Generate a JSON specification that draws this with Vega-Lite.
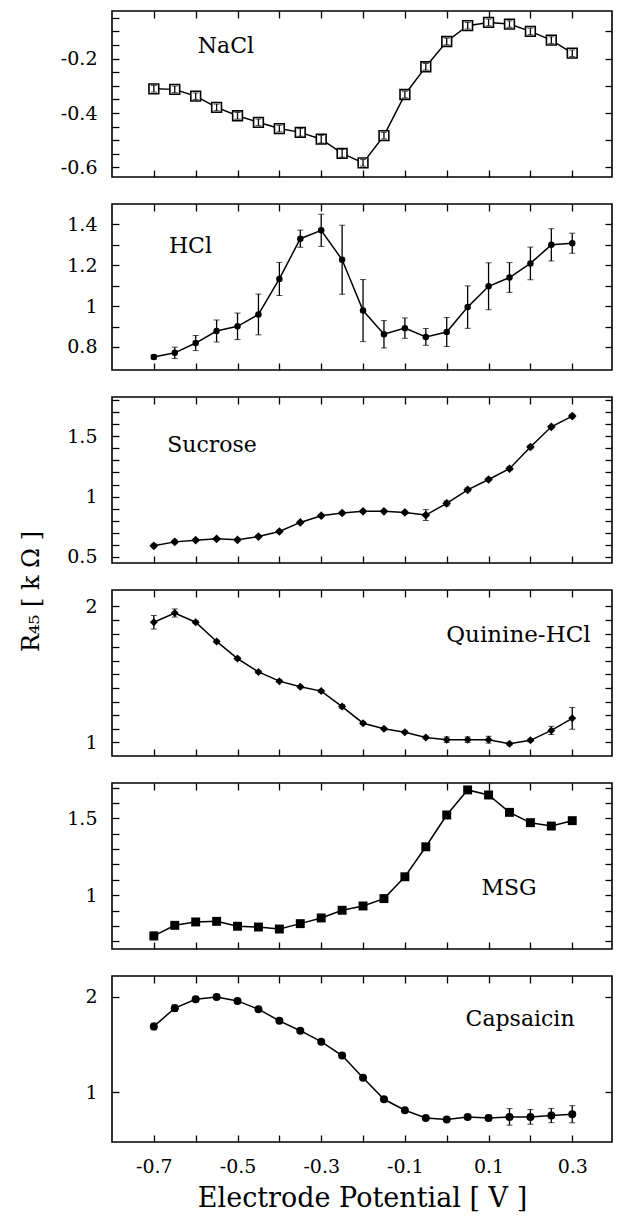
{
  "$schema": "https://vega.github.io/schema/vega-lite/v6.json",
  "background": "white",
  "padding": {"left": 18, "top": 9, "right": 5, "bottom": 5},
  "spacing": 27,
  "bounds": "flush",
  "config": {
    "view": {"stroke": "black", "strokeWidth": 1.6},
    "axis": {"domain": false, "grid": false, "tickColor": "black", "tickWidth": 1.3, "tickSize": 7, "offset": -7,
      "labelFont": "DejaVu Serif", "labelFontSize": 19, "labelColor": "black", "labelPadding": 15,
      "titleFont": "DejaVu Serif", "titleColor": "black", "titleFontWeight": "normal"},
    "text": {"font": "DejaVu Serif", "fontSize": 22, "color": "black"}
  },
  "vconcat": [
    {
      "width": 500, "height": 166,
      "data": {"values": [
        {"v": -0.7, "r": -0.311, "e": 0.012}, {"v": -0.65, "r": -0.313, "e": 0.012}, {"v": -0.6, "r": -0.338, "e": 0.012},
        {"v": -0.55, "r": -0.379, "e": 0.012}, {"v": -0.5, "r": -0.41, "e": 0.012}, {"v": -0.45, "r": -0.434, "e": 0.012},
        {"v": -0.4, "r": -0.457, "e": 0.012}, {"v": -0.35, "r": -0.471, "e": 0.014}, {"v": -0.3, "r": -0.496, "e": 0.014},
        {"v": -0.25, "r": -0.548, "e": 0.014}, {"v": -0.2, "r": -0.583, "e": 0.012}, {"v": -0.15, "r": -0.483, "e": 0.012},
        {"v": -0.1, "r": -0.332, "e": 0.012}, {"v": -0.05, "r": -0.23, "e": 0.012}, {"v": 0, "r": -0.137, "e": 0.012},
        {"v": 0.05, "r": -0.079, "e": 0.012}, {"v": 0.1, "r": -0.067, "e": 0.012}, {"v": 0.15, "r": -0.073, "e": 0.012},
        {"v": 0.2, "r": -0.1, "e": 0.012}, {"v": 0.25, "r": -0.132, "e": 0.012}, {"v": 0.3, "r": -0.18, "e": 0.012}
      ]},
      "resolve": {"axis": {"x": "independent", "y": "independent"}},
      "layer": [
        {"mark": {"type": "line", "color": "black", "strokeWidth": 1.5},
         "encoding": {
           "x": {"field": "v", "type": "quantitative", "scale": {"domain": [-0.8, 0.395], "nice": false, "zero": false},
                 "axis": {"orient": "bottom", "values": [-0.7,-0.6,-0.5,-0.4,-0.3,-0.2,-0.1,0,0.1,0.2,0.3], "labels": false, "title": null}},
           "y": {"field": "r", "type": "quantitative", "scale": {"domain": [-0.635, -0.025], "nice": false, "zero": false},
                 "axis": {"orient": "left", "values": [-0.6,-0.55,-0.5,-0.45,-0.4,-0.35,-0.3,-0.25,-0.2,-0.15,-0.1,-0.05],
                          "labelExpr": "indexof([-0.2,-0.4,-0.6], datum.value) >= 0 ? '' + datum.value : ''", "title": null}}
         }},
        {"mark": {"type": "point", "shape": "square", "filled": true, "fill": "white", "stroke": "black", "strokeWidth": 1.6, "size": 95, "opacity": 1},
         "encoding": {
           "x": {"field": "v", "type": "quantitative", "axis": {"orient": "top", "values": [-0.7,-0.6,-0.5,-0.4,-0.3,-0.2,-0.1,0,0.1,0.2,0.3], "labels": false, "title": null}},
           "y": {"field": "r", "type": "quantitative", "axis": {"orient": "right", "values": [-0.6,-0.5,-0.4,-0.3,-0.2,-0.1], "labels": false, "title": null}}
         }},
        {"mark": {"type": "errorbar", "color": "black", "ticks": {"size": 6}, "rule": {"strokeWidth": 1.3}},
         "encoding": {
           "x": {"field": "v", "type": "quantitative", "axis": null},
           "y": {"field": "r", "type": "quantitative", "axis": null},
           "yError": {"field": "e"}
         }},
        {"data": {"values": [{}]},
         "mark": {"type": "text", "align": "left", "baseline": "middle"},
         "encoding": {
           "x": {"datum": -0.595, "type": "quantitative", "axis": null},
           "y": {"datum": -0.153, "type": "quantitative", "axis": null},
           "text": {"value": "NaCl"}
         }}
      ]
    },
    {
      "width": 500, "height": 166,
      "data": {"values": [
        {"v": -0.7, "r": 0.751, "e": 0.01}, {"v": -0.65, "r": 0.771, "e": 0.028}, {"v": -0.6, "r": 0.819, "e": 0.037},
        {"v": -0.55, "r": 0.878, "e": 0.054}, {"v": -0.5, "r": 0.901, "e": 0.065}, {"v": -0.45, "r": 0.959, "e": 0.1},
        {"v": -0.4, "r": 1.133, "e": 0.081}, {"v": -0.35, "r": 1.33, "e": 0.042}, {"v": -0.3, "r": 1.371, "e": 0.079},
        {"v": -0.25, "r": 1.227, "e": 0.169}, {"v": -0.2, "r": 0.978, "e": 0.152}, {"v": -0.15, "r": 0.862, "e": 0.067},
        {"v": -0.1, "r": 0.892, "e": 0.05}, {"v": -0.05, "r": 0.849, "e": 0.041}, {"v": 0, "r": 0.873, "e": 0.071},
        {"v": 0.05, "r": 0.995, "e": 0.104}, {"v": 0.1, "r": 1.097, "e": 0.115}, {"v": 0.15, "r": 1.14, "e": 0.073},
        {"v": 0.2, "r": 1.209, "e": 0.08}, {"v": 0.25, "r": 1.3, "e": 0.079}, {"v": 0.3, "r": 1.308, "e": 0.049}
      ]},
      "resolve": {"axis": {"x": "independent", "y": "independent"}},
      "layer": [
        {"mark": {"type": "line", "color": "black", "strokeWidth": 1.5},
         "encoding": {
           "x": {"field": "v", "type": "quantitative", "scale": {"domain": [-0.8, 0.395], "nice": false, "zero": false},
                 "axis": {"orient": "bottom", "values": [-0.7,-0.6,-0.5,-0.4,-0.3,-0.2,-0.1,0,0.1,0.2,0.3], "labels": false, "title": null}},
           "y": {"field": "r", "type": "quantitative", "scale": {"domain": [0.687, 1.5], "nice": false, "zero": false},
                 "axis": {"orient": "left", "values": [0.8,0.9,1,1.1,1.2,1.3,1.4],
                          "labelExpr": "indexof([0.8,1,1.2,1.4], datum.value) >= 0 ? '' + datum.value : ''", "title": null}}
         }},
        {"mark": {"type": "errorbar", "color": "black", "ticks": {"size": 6}, "rule": {"strokeWidth": 1.3}},
         "encoding": {
           "x": {"field": "v", "type": "quantitative", "axis": null},
           "y": {"field": "r", "type": "quantitative", "axis": null},
           "yError": {"field": "e"}
         }},
        {"mark": {"type": "point", "shape": "circle", "filled": true, "color": "black", "size": 42, "opacity": 1},
         "encoding": {
           "x": {"field": "v", "type": "quantitative", "axis": {"orient": "top", "values": [-0.7,-0.6,-0.5,-0.4,-0.3,-0.2,-0.1,0,0.1,0.2,0.3], "labels": false, "title": null}},
           "y": {"field": "r", "type": "quantitative", "axis": {"orient": "right", "values": [0.8,0.9,1,1.1,1.2,1.3,1.4], "labels": false, "title": null}}
         }},
        {"data": {"values": [{}]},
         "mark": {"type": "text", "align": "left", "baseline": "middle"},
         "encoding": {
           "x": {"datum": -0.664, "type": "quantitative", "axis": null},
           "y": {"datum": 1.295, "type": "quantitative", "axis": null},
           "text": {"value": "HCl"}
         }}
      ]
    },
    {
      "width": 500, "height": 166,
      "data": {"values": [
        {"v": -0.7, "r": 0.592, "e": 0.015}, {"v": -0.65, "r": 0.625, "e": 0.015}, {"v": -0.6, "r": 0.639, "e": 0.01},
        {"v": -0.55, "r": 0.65, "e": 0.01}, {"v": -0.5, "r": 0.642, "e": 0.01}, {"v": -0.45, "r": 0.669, "e": 0.01},
        {"v": -0.4, "r": 0.711, "e": 0.01}, {"v": -0.35, "r": 0.786, "e": 0.01}, {"v": -0.3, "r": 0.842, "e": 0.01},
        {"v": -0.25, "r": 0.864, "e": 0.01}, {"v": -0.2, "r": 0.878, "e": 0.01}, {"v": -0.15, "r": 0.878, "e": 0.01},
        {"v": -0.1, "r": 0.869, "e": 0.01}, {"v": -0.05, "r": 0.847, "e": 0.045}, {"v": 0, "r": 0.944, "e": 0.02},
        {"v": 0.05, "r": 1.056, "e": 0.015}, {"v": 0.1, "r": 1.142, "e": 0.01}, {"v": 0.15, "r": 1.231, "e": 0.015},
        {"v": 0.2, "r": 1.411, "e": 0.015}, {"v": 0.25, "r": 1.578, "e": 0.01}, {"v": 0.3, "r": 1.667, "e": 0.015}
      ]},
      "resolve": {"axis": {"x": "independent", "y": "independent"}},
      "layer": [
        {"mark": {"type": "line", "color": "black", "strokeWidth": 1.5},
         "encoding": {
           "x": {"field": "v", "type": "quantitative", "scale": {"domain": [-0.8, 0.395], "nice": false, "zero": false},
                 "axis": {"orient": "bottom", "values": [-0.7,-0.6,-0.5,-0.4,-0.3,-0.2,-0.1,0,0.1,0.2,0.3], "labels": false, "title": null}},
           "y": {"field": "r", "type": "quantitative", "scale": {"domain": [0.45, 1.825], "nice": false, "zero": false},
                 "axis": {"orient": "left", "values": [0.5,0.6,0.7,0.8,0.9,1,1.1,1.2,1.3,1.4,1.5,1.6,1.7,1.8],
                          "labelExpr": "indexof([0.5,1,1.5], datum.value) >= 0 ? '' + datum.value : ''", "title": null}}
         }},
        {"mark": {"type": "errorbar", "color": "black", "ticks": {"size": 6}, "rule": {"strokeWidth": 1.3}},
         "encoding": {
           "x": {"field": "v", "type": "quantitative", "axis": null},
           "y": {"field": "r", "type": "quantitative", "axis": null},
           "yError": {"field": "e"}
         }},
        {"mark": {"type": "point", "shape": "diamond", "filled": true, "color": "black", "size": 75, "opacity": 1},
         "encoding": {
           "x": {"field": "v", "type": "quantitative", "axis": {"orient": "top", "values": [-0.7,-0.6,-0.5,-0.4,-0.3,-0.2,-0.1,0,0.1,0.2,0.3], "labels": false, "title": null}},
           "y": {"field": "r", "type": "quantitative", "axis": {"orient": "right", "values": [0.5,0.6,0.7,0.8,0.9,1,1.1,1.2,1.3,1.4,1.5,1.6,1.7,1.8], "labels": false, "title": null}}
         }},
        {"data": {"values": [{}]},
         "mark": {"type": "text", "align": "left", "baseline": "middle"},
         "encoding": {
           "x": {"datum": -0.668, "type": "quantitative", "axis": null},
           "y": {"datum": 1.425, "type": "quantitative", "axis": null},
           "text": {"value": "Sucrose"}
         }}
      ]
    },
    {
      "width": 500, "height": 166,
      "data": {"values": [
        {"v": -0.7, "r": 1.883, "e": 0.05}, {"v": -0.65, "r": 1.951, "e": 0.03}, {"v": -0.6, "r": 1.883, "e": 0.01},
        {"v": -0.55, "r": 1.742, "e": 0.01}, {"v": -0.5, "r": 1.616, "e": 0.01}, {"v": -0.45, "r": 1.518, "e": 0.01},
        {"v": -0.4, "r": 1.45, "e": 0.01}, {"v": -0.35, "r": 1.409, "e": 0.01}, {"v": -0.3, "r": 1.377, "e": 0.01},
        {"v": -0.25, "r": 1.263, "e": 0.015}, {"v": -0.2, "r": 1.141, "e": 0.01}, {"v": -0.15, "r": 1.1, "e": 0.01},
        {"v": -0.1, "r": 1.075, "e": 0.01}, {"v": -0.05, "r": 1.036, "e": 0.01}, {"v": 0, "r": 1.02, "e": 0.02},
        {"v": 0.05, "r": 1.02, "e": 0.02}, {"v": 0.1, "r": 1.02, "e": 0.025}, {"v": 0.15, "r": 0.99, "e": 0.01},
        {"v": 0.2, "r": 1.015, "e": 0.01}, {"v": 0.25, "r": 1.088, "e": 0.03}, {"v": 0.3, "r": 1.177, "e": 0.08}
      ]},
      "resolve": {"axis": {"x": "independent", "y": "independent"}},
      "layer": [
        {"mark": {"type": "line", "color": "black", "strokeWidth": 1.5},
         "encoding": {
           "x": {"field": "v", "type": "quantitative", "scale": {"domain": [-0.8, 0.395], "nice": false, "zero": false},
                 "axis": {"orient": "bottom", "values": [-0.7,-0.6,-0.5,-0.4,-0.3,-0.2,-0.1,0,0.1,0.2,0.3], "labels": false, "title": null}},
           "y": {"field": "r", "type": "quantitative", "scale": {"domain": [0.9, 2.12], "nice": false, "zero": false},
                 "axis": {"orient": "left", "values": [1,1.1,1.2,1.3,1.4,1.5,1.6,1.7,1.8,1.9,2],
                          "labelExpr": "indexof([1,2], datum.value) >= 0 ? '' + datum.value : ''",
                          "title": "R₄₅ [ k Ω ]", "titleFontSize": 24, "titleAngle": -90, "titleAlign": "center", "titleBaseline": "middle",
                          "titleX": -88, "titleY": 1}}
         }},
        {"mark": {"type": "errorbar", "color": "black", "ticks": {"size": 6}, "rule": {"strokeWidth": 1.3}},
         "encoding": {
           "x": {"field": "v", "type": "quantitative", "axis": null},
           "y": {"field": "r", "type": "quantitative", "axis": null},
           "yError": {"field": "e"}
         }},
        {"mark": {"type": "point", "shape": "diamond", "filled": true, "color": "black", "size": 64, "opacity": 1},
         "encoding": {
           "x": {"field": "v", "type": "quantitative", "axis": {"orient": "top", "values": [-0.7,-0.6,-0.5,-0.4,-0.3,-0.2,-0.1,0,0.1,0.2,0.3], "labels": false, "title": null}},
           "y": {"field": "r", "type": "quantitative", "axis": {"orient": "right", "values": [1,1.1,1.2,1.3,1.4,1.5,1.6,1.7,1.8,1.9,2], "labels": false, "title": null}}
         }},
        {"data": {"values": [{}]},
         "mark": {"type": "text", "align": "right", "baseline": "middle", "fontSize": 23},
         "encoding": {
           "x": {"datum": 0.344, "type": "quantitative", "axis": null},
           "y": {"datum": 1.788, "type": "quantitative", "axis": null},
           "text": {"value": "Quinine-HCl"}
         }}
      ]
    },
    {
      "width": 500, "height": 166,
      "data": {"values": [
        {"v": -0.7, "r": 0.735, "e": 0.025}, {"v": -0.65, "r": 0.804, "e": 0.01}, {"v": -0.6, "r": 0.826, "e": 0.01},
        {"v": -0.55, "r": 0.83, "e": 0.01}, {"v": -0.5, "r": 0.798, "e": 0.01}, {"v": -0.45, "r": 0.793, "e": 0.01},
        {"v": -0.4, "r": 0.78, "e": 0.01}, {"v": -0.35, "r": 0.815, "e": 0.01}, {"v": -0.3, "r": 0.852, "e": 0.01},
        {"v": -0.25, "r": 0.902, "e": 0.01}, {"v": -0.2, "r": 0.93, "e": 0.01}, {"v": -0.15, "r": 0.978, "e": 0.01},
        {"v": -0.1, "r": 1.12, "e": 0.01}, {"v": -0.05, "r": 1.315, "e": 0.01}, {"v": 0, "r": 1.522, "e": 0.01},
        {"v": 0.05, "r": 1.685, "e": 0.01}, {"v": 0.1, "r": 1.652, "e": 0.01}, {"v": 0.15, "r": 1.539, "e": 0.01},
        {"v": 0.2, "r": 1.472, "e": 0.01}, {"v": 0.25, "r": 1.45, "e": 0.01}, {"v": 0.3, "r": 1.485, "e": 0.01}
      ]},
      "resolve": {"axis": {"x": "independent", "y": "independent"}},
      "layer": [
        {"mark": {"type": "line", "color": "black", "strokeWidth": 1.5},
         "encoding": {
           "x": {"field": "v", "type": "quantitative", "scale": {"domain": [-0.8, 0.395], "nice": false, "zero": false},
                 "axis": {"orient": "bottom", "values": [-0.7,-0.6,-0.5,-0.4,-0.3,-0.2,-0.1,0,0.1,0.2,0.3], "labels": false, "title": null}},
           "y": {"field": "r", "type": "quantitative", "scale": {"domain": [0.65, 1.73], "nice": false, "zero": false},
                 "axis": {"orient": "left", "values": [0.7,0.8,0.9,1,1.1,1.2,1.3,1.4,1.5,1.6,1.7],
                          "labelExpr": "indexof([1,1.5], datum.value) >= 0 ? '' + datum.value : ''", "title": null}}
         }},
        {"mark": {"type": "errorbar", "color": "black", "ticks": {"size": 6}, "rule": {"strokeWidth": 1.3}},
         "encoding": {
           "x": {"field": "v", "type": "quantitative", "axis": null},
           "y": {"field": "r", "type": "quantitative", "axis": null},
           "yError": {"field": "e"}
         }},
        {"mark": {"type": "point", "shape": "square", "filled": true, "color": "black", "size": 80, "opacity": 1},
         "encoding": {
           "x": {"field": "v", "type": "quantitative", "axis": {"orient": "top", "values": [-0.7,-0.6,-0.5,-0.4,-0.3,-0.2,-0.1,0,0.1,0.2,0.3], "labels": false, "title": null}},
           "y": {"field": "r", "type": "quantitative", "axis": {"orient": "right", "values": [0.7,0.8,0.9,1,1.1,1.2,1.3,1.4,1.5,1.6,1.7], "labels": false, "title": null}}
         }},
        {"data": {"values": [{}]},
         "mark": {"type": "text", "align": "left", "baseline": "middle"},
         "encoding": {
           "x": {"datum": 0.083, "type": "quantitative", "axis": null},
           "y": {"datum": 1.046, "type": "quantitative", "axis": null},
           "text": {"value": "MSG"}
         }}
      ]
    },
    {
      "width": 500, "height": 166,
      "data": {"values": [
        {"v": -0.7, "r": 1.69, "e": 0.035}, {"v": -0.65, "r": 1.882, "e": 0.035}, {"v": -0.6, "r": 1.976, "e": 0.025},
        {"v": -0.55, "r": 2.0, "e": 0.02}, {"v": -0.5, "r": 1.958, "e": 0.025}, {"v": -0.45, "r": 1.871, "e": 0.02},
        {"v": -0.4, "r": 1.749, "e": 0.015}, {"v": -0.35, "r": 1.645, "e": 0.015}, {"v": -0.3, "r": 1.53, "e": 0.015},
        {"v": -0.25, "r": 1.384, "e": 0.015}, {"v": -0.2, "r": 1.15, "e": 0.015}, {"v": -0.15, "r": 0.924, "e": 0.015},
        {"v": -0.1, "r": 0.809, "e": 0.015}, {"v": -0.05, "r": 0.728, "e": 0.015}, {"v": 0, "r": 0.711, "e": 0.015},
        {"v": 0.05, "r": 0.739, "e": 0.02}, {"v": 0.1, "r": 0.728, "e": 0.03}, {"v": 0.15, "r": 0.739, "e": 0.087},
        {"v": 0.2, "r": 0.739, "e": 0.077}, {"v": 0.25, "r": 0.753, "e": 0.075}, {"v": 0.3, "r": 0.767, "e": 0.09}
      ]},
      "resolve": {"axis": {"x": "independent", "y": "independent"}},
      "layer": [
        {"mark": {"type": "line", "color": "black", "strokeWidth": 1.5},
         "encoding": {
           "x": {"field": "v", "type": "quantitative", "scale": {"domain": [-0.8, 0.395], "nice": false, "zero": false},
                 "axis": {"orient": "bottom", "values": [-0.7,-0.6,-0.5,-0.4,-0.3,-0.2,-0.1,0,0.1,0.2,0.3],
                          "labelExpr": "indexof([-0.7,-0.5,-0.3,-0.1,0.1,0.3], datum.value) >= 0 ? '' + datum.value : ''",
                          "labelPadding": 15,
                          "title": "Electrode Potential [ V ]", "titleFontSize": 27, "titlePadding": 9}},
           "y": {"field": "r", "type": "quantitative", "scale": {"domain": [0.475, 2.22], "nice": false, "zero": false},
                 "axis": {"orient": "left", "values": [1, 2],
                          "labelExpr": "'' + datum.value", "title": null}}
         }},
        {"mark": {"type": "errorbar", "color": "black", "ticks": {"size": 6}, "rule": {"strokeWidth": 1.3}},
         "encoding": {
           "x": {"field": "v", "type": "quantitative", "axis": null},
           "y": {"field": "r", "type": "quantitative", "axis": null},
           "yError": {"field": "e"}
         }},
        {"mark": {"type": "point", "shape": "circle", "filled": true, "color": "black", "size": 64, "opacity": 1},
         "encoding": {
           "x": {"field": "v", "type": "quantitative", "axis": {"orient": "top", "values": [-0.7,-0.6,-0.5,-0.4,-0.3,-0.2,-0.1,0,0.1,0.2,0.3], "labels": false, "title": null}},
           "y": {"field": "r", "type": "quantitative", "axis": {"orient": "right", "values": [1, 2], "labels": false, "title": null}}
         }},
        {"data": {"values": [{}]},
         "mark": {"type": "text", "align": "left", "baseline": "middle", "fontSize": 22},
         "encoding": {
           "x": {"datum": 0.045, "type": "quantitative", "axis": null},
           "y": {"datum": 1.77, "type": "quantitative", "axis": null},
           "text": {"value": "Capsaicin"}
         }}
      ]
    }
  ]
}
